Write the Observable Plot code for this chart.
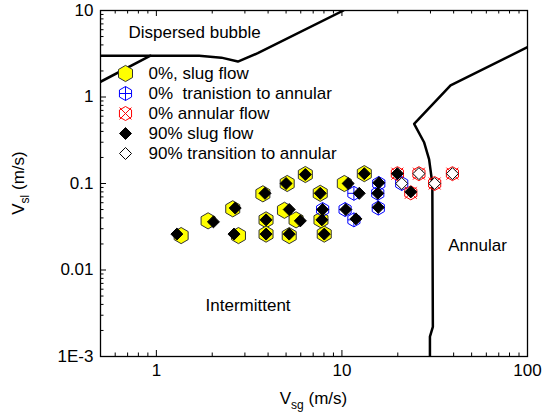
<!DOCTYPE html>
<html><head><meta charset="utf-8">
<script src="https://cdn.jsdelivr.net/npm/d3@7"></script>
<script src="https://cdn.jsdelivr.net/npm/@observablehq/plot@0.6"></script>
<style>
html,body{margin:0;padding:0;background:#fff;}
svg text{white-space:pre;}
</style></head><body><div id="chart"></div>
<script>
// ---- data (Vsg m/s, Vsl m/s) ----
const slug0 = [[1.36,0.025],[1.90,0.037],[2.58,0.051],[3.75,0.076],[3.9,0.038],[3.9,0.026],[2.77,0.025],
  [5.07,0.10],[6.35,0.127],[7.64,0.077],[4.9,0.049],[5.66,0.038],[5.2,0.025],[8.03,0.026],[7.71,0.038],
  [10.3,0.10],[13.2,0.13]];
const trans0 = [[7.87,0.050],[10.4,0.050],[11.6,0.038],[11.6,0.077],[15.8,0.10],[15.6,0.077],[15.7,0.052],[21.0,0.10]];
const annular0 = [[19.9,0.13],[23.5,0.078],[26.0,0.13],[31.6,0.10],[39.4,0.13]];
const slug90 = [[1.29,0.026],[2.03,0.036],[2.66,0.052],[3.85,0.077],[3.9,0.038],[3.9,0.026],[2.62,0.026],
  [5.0,0.10],[6.35,0.127],[7.64,0.077],[5.2,0.050],[5.97,0.037],[5.2,0.026],[8.03,0.026],[7.8,0.038],
  [7.87,0.050],[10.8,0.10],[13.2,0.13],[12.4,0.077],[10.5,0.050],[11.9,0.039],[15.8,0.102],[15.6,0.077],
  [15.7,0.053],[19.9,0.13],[23.5,0.08]];
const trans90 = [[21.0,0.10],[26.0,0.13],[31.6,0.10],[39.4,0.13]];

// flow-regime boundaries
const bubbleBoundary = [[0.5,3.0],[1.70,3.0],[2.24,2.85],[2.75,2.57],[3.52,3.21],[10.2,10]];
const slugBoundary = [[0.5,1.5],[0.93,3.0]];
const annularBoundary = [[100,3.77],[38.5,1.36],[24.5,0.49],[27.7,0.30],[29.5,0.19],[30.7,0.1],[30.9,0.0022],[29.8,0.0017],[29.8,0.001]];

const startLabels = [{text:"Dispersed bubble", x:0.707, y:5.5}];
const middleLabels = [
  {text:"Intermittent", x:3.12, y:0.0039},
  {text:"Annular", x:53.8, y:0.0192}
];
const legendLabels = ["0%, slug flow","0%  tranistion to annular","0% annular flow","90% slug flow","90% transition to annular"];

const xMajor = [1,10,100], xTickLabels = ["1","10","100"];
const yMajor = [0.001,0.01,0.1,1,10], yTickLabels = ["1E-3","0.01","0.1","1","10"];

// ---- layout ----
const W = 547, H = 418, mL = 100, mR = 20, mT = 10, mB = 62;
const pW = W - mL - mR, pH = H - mT - mB;

const xMinor = [];
for (const d of [0.1,1,10]) for (let k=2;k<=9;k++) { const v=k*d; if (v>0.5 && v<100) xMinor.push(v); }
const yMinor = [];
for (const d of [0.001,0.01,0.1,1]) for (let k=2;k<=9;k++) yMinor.push(k*d);

// ---- symbols ----
const hexPath = (ctx, r) => { const ry = r*Math.sqrt(3)/2;
  ctx.moveTo(0,r); ctx.lineTo(ry,r/2); ctx.lineTo(ry,-r/2); ctx.lineTo(0,-r); ctx.lineTo(-ry,-r/2); ctx.lineTo(-ry,r/2); ctx.closePath(); };
const hexPlus = {draw(ctx,size){ const r=Math.sqrt(size/Math.PI), ry=r*Math.sqrt(3)/2; hexPath(ctx,r);
  ctx.moveTo(0,-r); ctx.lineTo(0,r); ctx.moveTo(-ry,0); ctx.lineTo(ry,0); }};
const hexX = {draw(ctx,size){ const r=Math.sqrt(size/Math.PI), a=r*0.85; hexPath(ctx,r);
  ctx.moveTo(-a,-a); ctx.lineTo(a,a); ctx.moveTo(-a,a); ctx.lineTo(a,-a); }};

const styles = [
  {symbol:"hexagon", r:7, fill:"#ffff00", stroke:"#333", strokeWidth:1},
  {symbol:hexPlus, r:7, fill:"none", stroke:"#0000ff", strokeWidth:1},
  {symbol:hexX, r:7, fill:"none", stroke:"#ff0000", strokeWidth:1},
  {symbol:"diamond2", r:5.4, fill:"#000", stroke:"#000", strokeWidth:1},
  {symbol:"diamond2", r:5.4, fill:"#fff", stroke:"#000", strokeWidth:1}
];
const series = [slug0, trans0, annular0, slug90, trans90];

const marks = [];
for (const b of [bubbleBoundary, slugBoundary, annularBoundary])
  marks.push(Plot.line(b, {x: d=>d[0], y: d=>d[1], stroke:"#000", strokeWidth:2.5, clip:true}));
series.forEach((s,i) => marks.push(Plot.dot(s, {x:d=>d[0], y:d=>d[1], ...styles[i]})));
marks.push(Plot.text(startLabels, {x:"x", y:"y", text:"text", textAnchor:"start", fontSize:17, fill:"#000"}));
marks.push(Plot.text(middleLabels, {x:"x", y:"y", text:"text", textAnchor:"middle", fontSize:17, fill:"#000"}));
legendLabels.forEach((t,i) => {
  marks.push(Plot.dot([t], {frameAnchor:"top-left", dx:25, dy:63+20*i, ...styles[i]}));
  marks.push(Plot.text([t], {frameAnchor:"top-left", dx:48, dy:63+20*i, text:d=>d, textAnchor:"start", lineAnchor:"middle", fontSize:17, fill:"#000"}));
});
marks.push(Plot.tickX(xMajor, {x:d=>d, insetTop:pH-6, stroke:"#000"}));
marks.push(Plot.tickX(xMajor, {x:d=>d, insetBottom:pH-6, stroke:"#000"}));
marks.push(Plot.tickX(xMinor, {x:d=>d, insetTop:pH-3.5, stroke:"#000"}));
marks.push(Plot.tickX(xMinor, {x:d=>d, insetBottom:pH-3.5, stroke:"#000"}));
marks.push(Plot.tickY(yMajor, {y:d=>d, insetRight:pW-6, stroke:"#000"}));
marks.push(Plot.tickY(yMinor, {y:d=>d, insetRight:pW-3.5, stroke:"#000"}));
marks.push(Plot.axisX({ticks:xMajor, tickFormat:d=>xTickLabels[xMajor.indexOf(d)], tickSize:0, tickPadding:7, label:null, fontSize:17}));
marks.push(Plot.axisY({ticks:yMajor, tickFormat:d=>yTickLabels[yMajor.indexOf(d)], tickSize:0, tickPadding:7, label:null, fontSize:17}));
marks.push(Plot.frame({stroke:"#000", strokeWidth:1.3}));

const chart = Plot.plot({
  width:W, height:H, marginLeft:mL, marginRight:mR, marginTop:mT, marginBottom:mB,
  x:{type:"log", domain:[0.5,100]},
  y:{type:"log", domain:[0.001,10]},
  style:{fontFamily:"'Liberation Sans', Arial, sans-serif", fontSize:"17px", color:"#000", background:"#fff"},
  marks
});
document.getElementById("chart").appendChild(chart);

const svg = d3.select(chart);
const xt = svg.append("text").attr("x", mL + pW/2).attr("y", H - 14).attr("text-anchor","middle")
  .attr("font-size",17).attr("fill","#000");
xt.append("tspan").text("V");
xt.append("tspan").text("sg").attr("font-size",12).attr("dy",5);
xt.append("tspan").text(" (m/s)").attr("dy",-5);
const yt = svg.append("text").attr("transform",`translate(24,${mT + pH/2}) rotate(-90)`).attr("text-anchor","middle")
  .attr("font-size",17).attr("fill","#000");
yt.append("tspan").text("V");
yt.append("tspan").text("sl").attr("font-size",12).attr("dy",5);
yt.append("tspan").text(" (m/s)").attr("dy",-5);
</script></body></html>
